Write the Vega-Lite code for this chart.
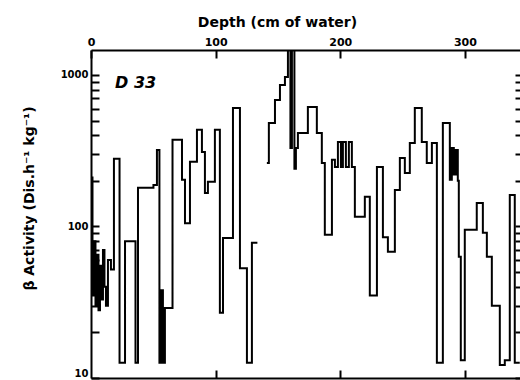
{
  "$schema": "https://vega.github.io/schema/vega-lite/v6.json",
  "width": 430,
  "height": 328,
  "autosize": "none",
  "padding": {"left": 91, "top": 50, "right": 0, "bottom": 2},
  "background": "white",
  "config": {
    "view": {"stroke": null},
    "axis": {"domainColor": "black", "domainWidth": 2, "tickColor": "black", "tickWidth": 2, "grid": false, "labelFont": "DejaVu Sans", "labelFontWeight": "bold", "labelColor": "black", "titleFont": "DejaVu Sans", "titleFontWeight": "bold", "titleColor": "black", "labelFlush": false, "labelOverlap": false, "labelBound": false}
  },
  "datasets": {
    "series": [
      {"seg": 1, "depth": 0, "activity": 210},
      {"seg": 1, "depth": 1.2, "activity": 35},
      {"seg": 1, "depth": 2.4, "activity": 80},
      {"seg": 1, "depth": 3.6, "activity": 30},
      {"seg": 1, "depth": 4.8, "activity": 65},
      {"seg": 1, "depth": 6.0, "activity": 28},
      {"seg": 1, "depth": 7.2, "activity": 55},
      {"seg": 1, "depth": 8.4, "activity": 33},
      {"seg": 1, "depth": 9.6, "activity": 70},
      {"seg": 1, "depth": 10.8, "activity": 40},
      {"seg": 1, "depth": 12.0, "activity": 30},
      {"seg": 1, "depth": 13.6, "activity": 60},
      {"seg": 1, "depth": 16.0, "activity": 52},
      {"seg": 1, "depth": 18.4, "activity": 280},
      {"seg": 1, "depth": 22.9, "activity": 12.6},
      {"seg": 1, "depth": 27.3, "activity": 80},
      {"seg": 1, "depth": 35.7, "activity": 12.6},
      {"seg": 1, "depth": 37.7, "activity": 180},
      {"seg": 1, "depth": 50.1, "activity": 188},
      {"seg": 1, "depth": 52.9, "activity": 320},
      {"seg": 1, "depth": 54.9, "activity": 12.6},
      {"seg": 1, "depth": 56.1, "activity": 38},
      {"seg": 1, "depth": 57.7, "activity": 12.6},
      {"seg": 1, "depth": 59.3, "activity": 29},
      {"seg": 1, "depth": 65.4, "activity": 373},
      {"seg": 1, "depth": 73.0, "activity": 203},
      {"seg": 1, "depth": 75.4, "activity": 105},
      {"seg": 1, "depth": 79.4, "activity": 267},
      {"seg": 1, "depth": 85.0, "activity": 434},
      {"seg": 1, "depth": 89.0, "activity": 310},
      {"seg": 1, "depth": 91.4, "activity": 166},
      {"seg": 1, "depth": 93.8, "activity": 197},
      {"seg": 1, "depth": 99.4, "activity": 434},
      {"seg": 1, "depth": 103.4, "activity": 27},
      {"seg": 1, "depth": 105.9, "activity": 84},
      {"seg": 1, "depth": 113.9, "activity": 605},
      {"seg": 1, "depth": 119.5, "activity": 53},
      {"seg": 1, "depth": 125.1, "activity": 12.6},
      {"seg": 1, "depth": 129.1, "activity": 78},
      {"seg": 1, "depth": 133.5, "activity": 78},
      {"seg": 2, "depth": 141.1, "activity": 262},
      {"seg": 2, "depth": 142.7, "activity": 482},
      {"seg": 2, "depth": 147.6, "activity": 684},
      {"seg": 2, "depth": 151.6, "activity": 859},
      {"seg": 2, "depth": 155.6, "activity": 970},
      {"seg": 2, "depth": 158.0, "activity": 1460},
      {"seg": 2, "depth": 160.0, "activity": 330},
      {"seg": 2, "depth": 161.2, "activity": 1460},
      {"seg": 2, "depth": 163.2, "activity": 240},
      {"seg": 2, "depth": 164.4, "activity": 330},
      {"seg": 2, "depth": 166.0, "activity": 414},
      {"seg": 2, "depth": 174.0, "activity": 615},
      {"seg": 2, "depth": 181.2, "activity": 414},
      {"seg": 2, "depth": 185.2, "activity": 262},
      {"seg": 2, "depth": 187.6, "activity": 88},
      {"seg": 2, "depth": 193.3, "activity": 275},
      {"seg": 2, "depth": 195.7, "activity": 247},
      {"seg": 2, "depth": 198.1, "activity": 361},
      {"seg": 2, "depth": 200.5, "activity": 247},
      {"seg": 2, "depth": 202.1, "activity": 361},
      {"seg": 2, "depth": 204.5, "activity": 247},
      {"seg": 2, "depth": 206.9, "activity": 361},
      {"seg": 2, "depth": 209.3, "activity": 247},
      {"seg": 2, "depth": 211.7, "activity": 116},
      {"seg": 2, "depth": 219.7, "activity": 157},
      {"seg": 2, "depth": 223.7, "activity": 35},
      {"seg": 2, "depth": 229.4, "activity": 247},
      {"seg": 2, "depth": 234.2, "activity": 85},
      {"seg": 2, "depth": 238.2, "activity": 68},
      {"seg": 2, "depth": 243.8, "activity": 174},
      {"seg": 2, "depth": 247.8, "activity": 283},
      {"seg": 2, "depth": 251.8, "activity": 225},
      {"seg": 2, "depth": 255.8, "activity": 356},
      {"seg": 2, "depth": 259.8, "activity": 605},
      {"seg": 2, "depth": 265.4, "activity": 361},
      {"seg": 2, "depth": 269.4, "activity": 262},
      {"seg": 2, "depth": 273.5, "activity": 356},
      {"seg": 2, "depth": 277.5, "activity": 12.6},
      {"seg": 2, "depth": 282.3, "activity": 482},
      {"seg": 2, "depth": 287.9, "activity": 203},
      {"seg": 2, "depth": 289.5, "activity": 330},
      {"seg": 2, "depth": 291.1, "activity": 220},
      {"seg": 2, "depth": 292.7, "activity": 320},
      {"seg": 2, "depth": 294.3, "activity": 200},
      {"seg": 2, "depth": 295.1, "activity": 63},
      {"seg": 2, "depth": 296.7, "activity": 13.1},
      {"seg": 2, "depth": 299.9, "activity": 95},
      {"seg": 2, "depth": 309.5, "activity": 143},
      {"seg": 2, "depth": 314.4, "activity": 91},
      {"seg": 2, "depth": 317.6, "activity": 63},
      {"seg": 2, "depth": 321.6, "activity": 30},
      {"seg": 2, "depth": 328.0, "activity": 12.2},
      {"seg": 2, "depth": 332.0, "activity": 13.1},
      {"seg": 2, "depth": 336.0, "activity": 161},
      {"seg": 2, "depth": 340.0, "activity": 12.6},
      {"seg": 2, "depth": 344.0, "activity": 12.6}
    ],
    "notes": [
      {"depth": 19.3, "activity": 880, "label": "D 33"}
    ]
  },
  "layer": [
    {
      "data": {"name": "series"},
      "mark": {"type": "line", "interpolate": "step-after", "color": "black", "strokeWidth": 2, "clip": true},
      "encoding": {
        "x": {"field": "depth", "type": "quantitative",
          "scale": {"domain": [0, 345], "nice": false, "zero": false},
          "axis": {"orient": "top", "values": [0, 100, 200, 300], "format": "d", "tickSize": -8, "labelPadding": 11, "labelFontSize": 11, "title": "Depth (cm of water)", "titleFontSize": 14, "titleX": 186, "titleY": -24, "titleAnchor": null, "titleAlign": "center", "titleBaseline": "alphabetic"}},
        "y": {"field": "activity", "type": "quantitative",
          "scale": {"type": "log", "domain": [10, 1460], "nice": false},
          "axis": {"orient": "left", "values": [10, 20, 30, 40, 50, 60, 70, 80, 90, 100, 200, 300, 400, 500, 600, 700, 800, 900, 1000], "format": "d", "labelExpr": "indexof([10, 100, 1000], datum.value) >= 0 ? datum.label : ''", "labelBaseline": {"condition": {"test": "datum.value == 10", "value": "bottom"}, "value": "middle"}, "tickSize": -8, "labelPadding": 11, "labelFontSize": 10, "title": "β Activity (Dis.h⁻¹ kg⁻¹)", "titleFontSize": 14, "titleAngle": -90, "titleX": -62, "titleY": 148, "titleAlign": "center", "titleBaseline": "middle"}},
        "detail": {"field": "seg", "type": "nominal"}
      }
    },
    {
      "data": {"name": "notes"},
      "mark": {"type": "text", "align": "left", "baseline": "middle", "font": "DejaVu Sans", "fontStyle": "italic", "fontWeight": "bold", "fontSize": 16, "color": "black"},
      "encoding": {
        "x": {"field": "depth", "type": "quantitative",
          "scale": {"domain": [0, 345], "nice": false, "zero": false},
          "axis": {"orient": "bottom", "values": [100, 200, 300], "tickSize": -8, "labels": false, "title": null}},
        "y": {"field": "activity", "type": "quantitative",
          "scale": {"type": "log", "domain": [10, 1460], "nice": false},
          "axis": {"orient": "right", "values": [10, 20, 30, 40, 50, 60, 70, 80, 90, 100, 200, 300, 400, 500, 600, 700, 800, 900, 1000], "tickSize": -6, "labels": false, "title": null}},
        "text": {"field": "label"}
      }
    }
  ],
  "resolve": {"scale": {"x": "shared", "y": "shared"}, "axis": {"x": "independent", "y": "independent"}}
}
